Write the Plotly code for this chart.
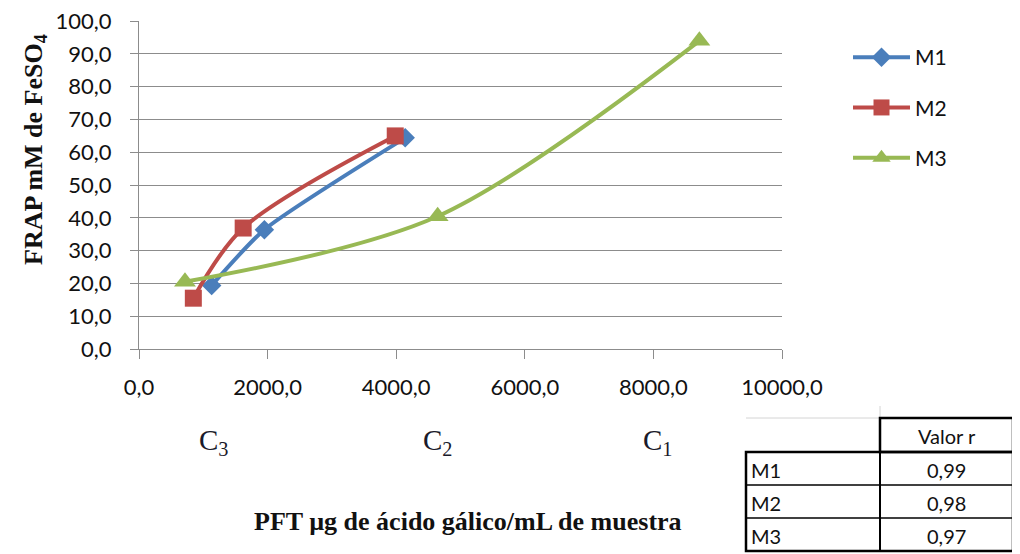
import plotly.graph_objects as go

# ---- data ----
series_names = ["M1", "M2", "M3"]
m1_x = [1130, 1950, 4140]
m1_y = [19.4, 36.4, 64.4]
m2_x = [845, 1620, 3985]
m2_y = [15.5, 36.9, 65.0]
m3_x = [715, 4645, 8715]
m3_y = [20.5, 40.5, 94.0]
colors = ["#4A7EBB", "#BE4B48", "#98B954"]
symbols = ["diamond", "square", "triangle-up"]
marker_sizes = [15, 17, 19]
smoothings = [0.6, 0.9, 0.9]

x_ticks = [0, 2000, 4000, 6000, 8000, 10000]
y_ticks = [0, 10, 20, 30, 40, 50, 60, 70, 80, 90, 100]
x_tick_labels = [f"{v:.1f}".replace(".", ",") for v in x_ticks]
y_tick_labels = [f"{v:.1f}".replace(".", ",") for v in y_ticks]

c_labels = ["C<sub>3</sub>", "C<sub>2</sub>", "C<sub>1</sub>"]
table_header = "Valor r"
table_rows = ["M1", "M2", "M3"]
r_values = ["0,99", "0,98", "0,97"]

# ---- geometry (image pixel coords; page body has an 8px margin) ----
OFF = 8
IMG_W, IMG_H = 1020, 554
W, H = IMG_W - OFF, IMG_H - OFF
X0, X1, Y0, Y1 = 139, 782, 349, 21          # plot area in image pixels
L, R, T, B = X0 - OFF, IMG_W - X1, Y1 - OFF, IMG_H - Y0
PW, PH = X1 - X0, Y0 - Y1
Y_MAX = 100.05


def px(x):
    return (x - X0) / PW


def py(y):
    return (Y0 - y) / PH


fig = go.Figure()
for name, xs, ys, c, s, ms, sm in zip(series_names, [m1_x, m2_x, m3_x], [m1_y, m2_y, m3_y],
                                      colors, symbols, marker_sizes, smoothings):
    fig.add_trace(go.Scatter(
        x=xs, y=ys, name=name, mode="lines+markers", legendgroup=name,
        line=dict(color=c, width=4, shape="spline", smoothing=sm),
        marker=dict(symbol=s, size=ms, color=c, line=dict(width=0)),
    ))

sans = "Lato, Open Sans, sans-serif"
tick_font = dict(family=sans, size=22, color="#111")
grid = "#8C8C8C"

fig.update_layout(
    width=W, height=H,
    font=dict(family=sans, size=22, color="#111"),
    margin=dict(l=L, r=R, t=T, b=B, autoexpand=False),
    plot_bgcolor="white", paper_bgcolor="white",
    showlegend=True,
    legend=dict(x=px(848), y=py(37), xanchor="left", yanchor="top",
                font=dict(family=sans, size=21, color="#111"),
                tracegroupgap=20, itemwidth=57, bgcolor="rgba(0,0,0,0)"),
    xaxis=dict(range=[0, 10000], tickmode="array", tickvals=x_ticks, ticktext=x_tick_labels,
               ticks="outside", ticklen=9, tickcolor=grid, showline=True, linecolor=grid,
               showgrid=False, zeroline=False, tickfont=tick_font, ticklabeloverflow="allow"),
    yaxis=dict(range=[0, Y_MAX], tickmode="array", tickvals=y_ticks, ticktext=y_tick_labels,
               ticks="outside", ticklen=8, tickcolor=grid, showline=True, linecolor=grid,
               showgrid=True, gridcolor=grid, gridwidth=1, zeroline=False,
               tickfont=tick_font, ticklabeloverflow="allow"),
)
fig.update_xaxes(tickfont_size=22, ticklabelstandoff=10)
fig.update_yaxes(tickfont_size=22, ticklabelstandoff=14)

serif = "Liberation Serif, Times New Roman, serif"
ann = []
ann.append(dict(text="<b>FRAP mM de FeSO<sub>4</sub></b>", textangle=-90,
                x=px(35), y=py(150), xref="paper", yref="paper", showarrow=False,
                xanchor="center", yanchor="middle",
                font=dict(family=serif, size=26, color="#111")))
ann.append(dict(text="<b>PFT µg de ácido gálico/mL de muestra</b>",
                x=px(468), y=py(521), xref="paper", yref="paper", showarrow=False,
                xanchor="center", yanchor="middle",
                font=dict(family=serif, size=26, color="#111")))
for lab, cx in zip(c_labels, [213, 437, 657]):
    ann.append(dict(text=lab, x=px(cx), y=py(442), xref="paper", yref="paper",
                    xanchor="center", yanchor="middle", showarrow=False,
                    font=dict(family=serif, size=29, color="#1a1a2a")))

# ---- table ----
tl, tm, tr = 746, 880, 1013
row_edges = [418, 452, 485, 518, 551]
light = "#D4D4D4"
shapes = []
shapes.append(dict(type="line", xref="paper", yref="paper", x0=px(tl), x1=px(IMG_W),
                   y0=py(418), y1=py(418), line=dict(color=light, width=1)))
for xv in [tm, tr]:
    shapes.append(dict(type="line", xref="paper", yref="paper", x0=px(xv), x1=px(xv),
                       y0=py(406), y1=py(418), line=dict(color=light, width=1)))
for yv in row_edges[1:]:
    shapes.append(dict(type="line", xref="paper", yref="paper", x0=px(tr), x1=px(IMG_W),
                       y0=py(yv), y1=py(yv), line=dict(color=light, width=1)))
shapes.append(dict(type="rect", xref="paper", yref="paper", x0=px(tm), x1=px(tr),
                   y0=py(row_edges[0]), y1=py(row_edges[1]), line=dict(color="black", width=2.5)))
shapes.append(dict(type="rect", xref="paper", yref="paper", x0=px(tl), x1=px(tr),
                   y0=py(row_edges[1]), y1=py(row_edges[-1]), line=dict(color="black", width=2.5)))
for yv in row_edges[2:-1]:
    shapes.append(dict(type="line", xref="paper", yref="paper", x0=px(tl), x1=px(tr),
                       y0=py(yv), y1=py(yv), line=dict(color="black", width=1.5)))
shapes.append(dict(type="line", xref="paper", yref="paper", x0=px(tm), x1=px(tm),
                   y0=py(row_edges[1]), y1=py(row_edges[-1]), line=dict(color="black", width=2)))

tfont = dict(family=sans, size=20, color="#111")
ann.append(dict(text=table_header, x=px((tm + tr) / 2), y=py((row_edges[0] + row_edges[1]) / 2 + 1),
                xref="paper", yref="paper", xanchor="center", yanchor="middle",
                showarrow=False, font=tfont))
for i, (rn, rv) in enumerate(zip(table_rows, r_values)):
    yc = (row_edges[i + 1] + row_edges[i + 2]) / 2 + 1
    ann.append(dict(text=rn, x=px(tl + 3), y=py(yc), xref="paper", yref="paper",
                    xanchor="left", yanchor="middle", showarrow=False, font=tfont))
    ann.append(dict(text=rv, x=px((tm + tr) / 2), y=py(yc), xref="paper", yref="paper",
                    xanchor="center", yanchor="middle", showarrow=False, font=tfont))

fig.update_layout(annotations=ann, shapes=shapes)
fig.write_html("out.html")
